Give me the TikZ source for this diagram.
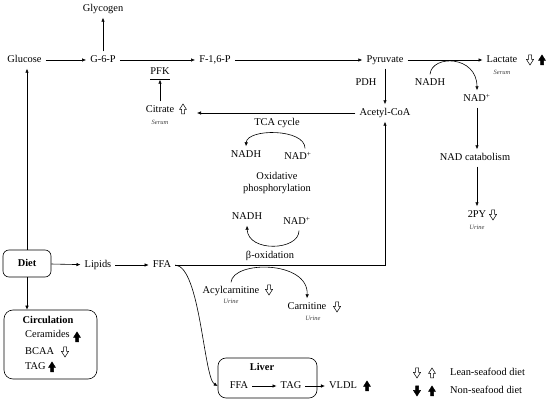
\documentclass[tikz,border=0pt]{standalone}
\usepackage{fontspec}
\setmainfont{Liberation Serif}
\usepackage{xcolor}
\usepackage{tikz}
\usetikzlibrary{arrows.meta}
\usetikzlibrary{positioning}

\tikzset{
    met/.style={inner sep=4pt, text height=7.5pt, text depth=1.5pt},
    arr/.style={-{Latex[length=4pt,width=3.5pt]}, line width=0.6pt},
    note/.style={font=\fontsize{6.5}{7}\selectfont\itshape, text=black!75, inner sep=1pt, text height=4.5pt, text depth=1.5pt},
    box/.style={draw, line width=0.6pt, rounded corners=6pt},
    pics/upw/.style={code={\draw[line width=0.5pt, fill=white] (-1.5,5) -- (-1.5,0.5) -- (-3.5,0.5) -- (0,-5) -- (3.5,0.5) -- (1.5,0.5) -- (1.5,5) -- cycle;}},
    pics/upb/.style={code={\draw[line width=0.5pt, fill=black] (-1.5,5) -- (-1.5,0.5) -- (-3.5,0.5) -- (0,-5) -- (3.5,0.5) -- (1.5,0.5) -- (1.5,5) -- cycle;}},
    pics/dnw/.style={code={\draw[line width=0.5pt, fill=white] (-1.5,-5) -- (-1.5,-0.5) -- (-3.5,-0.5) -- (0,5) -- (3.5,-0.5) -- (1.5,-0.5) -- (1.5,-5) -- cycle;}},
    pics/dnb/.style={code={\draw[line width=0.5pt, fill=black] (-1.5,-5) -- (-1.5,-0.5) -- (-3.5,-0.5) -- (0,5) -- (3.5,-0.5) -- (1.5,-0.5) -- (1.5,-5) -- cycle;}},
}

\begin{document}
\begin{tikzpicture}[x=1pt, y=-1pt, font=\fontsize{10.4}{12}\selectfont, every node/.style={met}]
        \useasboundingbox (0,0) rectangle (550,403);

        % Glicolisi
        \node (glu) at (24.5,60) {Glucose};
        \node (g6p) at (103,60) {G-6-P};
        \node (gly) at (103,9) {Glycogen};
        \node (f16p) at (215,60) {F-1,6-P};
        \node (pyr) at (385,60) {Pyruvate};
        \node (lac) at (502,60) {Lactate};
        \node[note, below=0pt of lac] (lacS) {Serum};
        \pic at (530,60) {dnw};
        \pic at (542,60) {upb};

        \draw[arr] (glu) -- (g6p);
        \draw[arr] (g6p) -- (gly);
        \draw[arr] (g6p) -- (f16p);
        \draw[arr] (f16p) -- (pyr);
        \draw[arr] (pyr) -- (lac);

        % PDH e acetil-CoA
        \node (pdh) at (366,83) {PDH};
        \node (acoa) at (385,113) {Acetyl-CoA};
        \draw[arr] (pyr) -- (acoa);

        % NAD+ e catabolismo
        \node (nadhL) at (430,83) {NADH};
        \node (nadL) at (477,99) {NAD\textsuperscript{+}};
        \node (nadcat) at (475,158) {NAD catabolism};
        \node (py2) at (477,215) {2PY};
        \node[note, below=0pt of py2] (py2U) {Urine};
        \pic at (493,215) {dnw};
        \draw[arr] (nadhL.north) .. controls +(2,-20) and +(0,-35) .. (nadL.north);
        \draw[arr] (nadL) -- (nadL |- nadcat.north);
        \draw[arr] (nadL |- nadcat.south) -- (py2);

        % Citrato e PFK
        \node[inner xsep=0pt, inner ysep=3pt] (pfk) at (160,72) {PFK};
        \node (cit) at (160,110) {Citrate};
        \node[note, below=0pt of cit] (citS) {Serum};
        \pic at (183,109) {upw};
        \coordinate (citR) at (197,113);
        \draw[line width=0.6pt] (pfk.south west) -- (pfk.south east);
        \draw[arr] (cit) -- (pfk.south);
        \draw[arr] (acoa) -- (citR);

        % Ciclo TCA e fosforilazione ossidativa
        \node (tca) at (277,123) {TCA cycle};
        \node (nadh1) at (246,155) {NADH};
        \node (nad1) at (298,157) {NAD\textsuperscript{+}};
        \node[align=center, text height=, text depth=, inner sep=0pt] (oxp) at (277,183) {Oxidative\\phosphorylation};
        \node (nadh2) at (247,217) {NADH};
        \node (nad2) at (297,222) {NAD\textsuperscript{+}};
        \node (box) at (270,256) {β-oxidation};
        \draw[arr] ([xshift=7pt]nad1.north) .. controls +(0,-20) and +(1,-18) .. (nadh1.north);
        \draw[arr] ([xshift=2pt]nad2.south) .. controls +(0,20) and +(1,27) .. (nadh2.south);

        % Dieta
        \node[box, minimum width=48pt, minimum height=27pt, font=\fontsize{10.4}{12}\selectfont\bfseries] (diet) at (27,263.5) {Diet};
        \node (lip) at (98,265) {Lipids};
        \node (ffa) at (162,265) {FFA};
        \draw[arr] (diet) -- (diet |- glu.south);
        \draw[arr] (diet) -- (lip);
        \draw[arr] (lip) -- (ffa);
        \draw[arr] (ffa) -| (acoa);

        % Carnitina
        \node (acyl) at (231,291) {Acylcarnitine};
        \node[note, below=-2pt of acyl] (acylU) {Urine};
        \pic at (269,290) {dnw};
        \node (carn) at (307,307) {Carnitine};
        \node[note, below=-1pt of carn, xshift=6pt] (carnU) {Urine};
        \pic at (337,307) {dnw};
        \draw[arr] (acyl.north) .. controls +(2,-22) and +(2,-38) .. (carn.north);

        % Circolazione
        \node[box, minimum width=93pt, minimum height=69pt, rounded corners=9pt] (circ) at (50.5,344.5) {};
        \node[font=\fontsize{10.4}{12}\selectfont\bfseries] (circT) at (48,321) {Circulation};
        \node[anchor=west] (cer) at (21,335) {Ceramides};
        \node[anchor=west] (bcaa) at (21,352) {BCAA};
        \node[anchor=west] (tagc) at (21,367) {TAG};
        \pic at (77,337) {upb};
        \pic at (65,352) {dnw};
        \pic at (52,367) {upb};
        \draw[arr] (diet) -- (diet |- circ.north);

        % Fegato
        \node[box, minimum width=99pt, minimum height=40pt, rounded corners=8pt] (liver) at (267.5,378) {};
        \node[font=\fontsize{10.4}{12}\selectfont\bfseries] (livT) at (262,368) {Liver};
        \node (lfa) at (239,386) {FFA};
        \node (ltag) at (291,386) {TAG};
        \node (vldl) at (343,386) {VLDL};
        \pic at (367,386) {upb};
        \draw[arr] (lfa) -- (ltag);
        \draw[arr] (ltag) -- (vldl);
        \draw[arr] (ffa.east) .. controls +(25,2) and +(-14,-8) .. (liver.west |- lfa);

        % Legenda
        \pic at (417,373) {dnw};
        \pic at (432,373) {upw};
        \pic at (417,391) {dnb};
        \pic at (432,391) {upb};
        \node[anchor=west] (legL) at (446,373) {Lean-seafood diet};
        \node[anchor=west] (legN) at (446,391) {Non-seafood diet};
    \end{tikzpicture}
\end{document}
